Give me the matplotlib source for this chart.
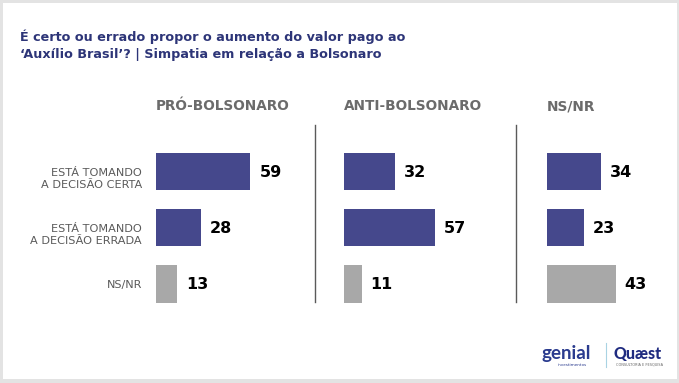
import matplotlib
matplotlib.use("Agg")
import matplotlib.pyplot as plt
from matplotlib.patches import Rectangle
from matplotlib.lines import Line2D
import matplotlib.transforms as mtransforms

# dados
grupos = ["PRÓ-BOLSONARO", "ANTI-BOLSONARO", "NS/NR"]
categorias = ["ESTÁ TOMANDO\nA DECISÃO CERTA", "ESTÁ TOMANDO\nA DECISÃO ERRADA", "NS/NR"]
pro_bolsonaro = [59, 28, 13]
anti_bolsonaro = [32, 57, 11]
ns_nr = [34, 23, 43]
valores = [pro_bolsonaro, anti_bolsonaro, ns_nr]

titulo = ["É certo ou errado propor o aumento do valor pago ao",
          "‘Auxílio Brasil’? | Simpatia em relação a Bolsonaro"]

AZUL = "#45488c"
CINZA = "#a8a8a8"
COR_TITULO = "#2d3578"
cores = [AZUL, AZUL, CINZA]

W, H = 679, 383
plt.rcParams['font.family'] = ['DejaVu Sans']

fig = plt.figure(figsize=(W / 100, H / 100), dpi=100)
fig.patch.set_facecolor("#e3e3e3")
fig.add_artist(Rectangle((3 / W, 1 - 379 / H), 674 / W, 376 / H,
                         transform=fig.transFigure, facecolor="white",
                         edgecolor="none", zorder=0))

def fx(px):
    return px / W

def fy(py):
    return 1 - py / H

for i, linha in enumerate(titulo):
    fig.text(fx(20), fy(40.7 + 17 * i), linha, ha="left", va="baseline", fontsize=9.15,
             fontweight="bold", color=COR_TITULO)

lefts = [156, 344, 546.7]
escala = 1.6  # px por ponto
topo, passo = 143.6, 56.15

for k in range(3):
    ax = fig.add_axes([fx(lefts[k]), fy(topo + 3 * passo), fx(100 * escala), 3 * passo / H])
    ax.set_xlim(0, 100)
    ax.set_ylim(2.5, -0.5)
    ax.axis("off")
    ys = list(range(len(categorias)))
    ax.barh(ys, valores[k], height=0.66, color=cores, zorder=2)
    for y, v in zip(ys, valores[k]):
        off = mtransforms.offset_copy(ax.transData, fig=fig, x=9, y=-1, units="dots")
        ax.text(v, y, str(v), transform=off, ha="left", va="center",
                fontsize=11.5, fontweight="bold", color="black")
    fig.text(fx(lefts[k]), fy(110.5), grupos[k], ha="left", va="baseline",
             fontsize=9.8, fontweight="bold", color="#6b6b6b")
    if k == 0:
        for y, cat in zip(ys, categorias):
            dy = -7 if "\n" in cat else -1
            off = mtransforms.offset_copy(ax.transData, fig=fig, x=-14, y=dy, units="dots")
            ax.text(0, y, cat, transform=off, ha="right", va="center",
                    fontsize=8.1, color="#5a5a5a", linespacing=1.25)

# separadores
for xs in [315, 515.7]:
    fig.add_artist(Line2D([fx(xs), fx(xs)], [fy(125), fy(302)],
                          transform=fig.transFigure, color="#5a5a5a", lw=1))

# logos
fig.text(fx(541), fy(354), "genial", ha="left", va="center", fontsize=13.5,
         color="#2b3c8f", fontfamily="Lato", fontweight="bold")
fig.text(fx(558), fy(365), "investimentos", ha="left", va="center", fontsize=3,
         color="#2b3c8f")
fig.add_artist(Line2D([fx(606), fx(606)], [fy(343), fy(367)],
                      transform=fig.transFigure, color="#a9d3e3", lw=0.8))
fig.text(fx(614), fy(354), "Quæst", ha="left", va="center", fontsize=11.5,
         color="#1f2b80", fontfamily="Lato", fontweight="black")
fig.text(fx(616), fy(365), "CONSULTORIA E PESQUISA", ha="left", va="center",
         fontsize=2.5, color="#666666")

fig.savefig("out.png", dpi=100, facecolor=fig.get_facecolor())
